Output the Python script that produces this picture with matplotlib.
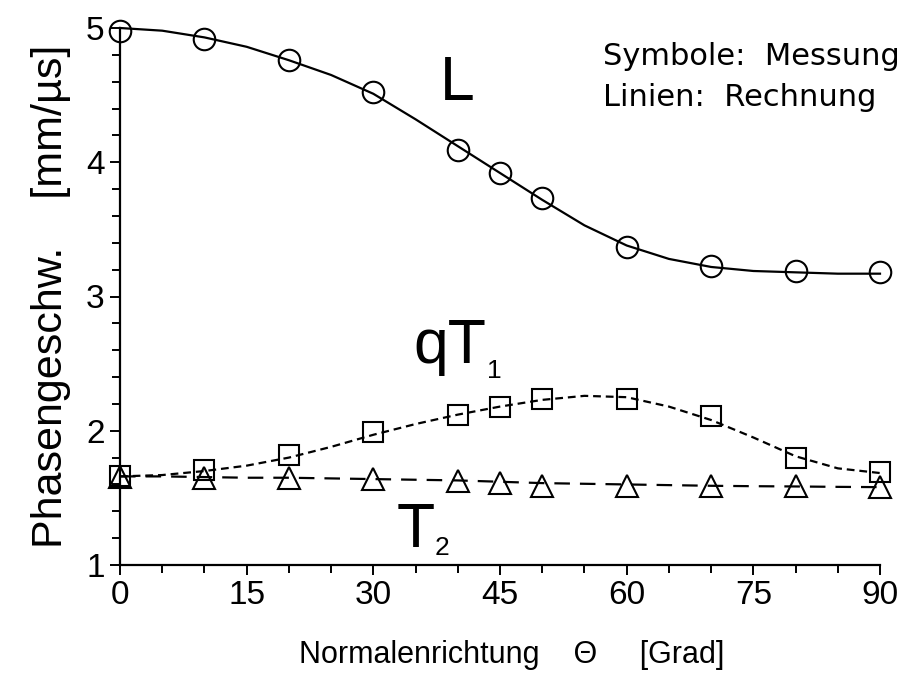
import numpy as np
import matplotlib
matplotlib.use("Agg")
import matplotlib.pyplot as plt
from matplotlib.ticker import MultipleLocator

plt.rcParams['font.family'] = ['Liberation Sans', 'DejaVu Sans']

# Messwerte (Symbole)
winkel_mess = [0, 10, 20, 30, 40, 45, 50, 60, 70, 80, 90]
L_mess = [4.98, 4.92, 4.76, 4.52, 4.09, 3.92, 3.73, 3.37, 3.23, 3.19, 3.18]
qT1_mess = [1.66, 1.71, 1.82, 1.99, 2.12, 2.18, 2.24, 2.24, 2.11, 1.80, 1.69]
T2_mess = [1.655, 1.65, 1.65, 1.64, 1.625, 1.61, 1.59, 1.59, 1.59, 1.585, 1.58]

winkel_rech = [0, 5, 10, 15, 20, 25, 30, 35, 40, 45, 50, 55, 60, 65, 70, 75, 80, 85, 90]
L_rech = [5.00, 4.98, 4.93, 4.86, 4.76, 4.65, 4.51, 4.32, 4.12, 3.92, 3.72,
          3.53, 3.38, 3.28, 3.22, 3.19, 3.18, 3.17, 3.17]
qT1_rech = [1.66, 1.67, 1.70, 1.74, 1.80, 1.88, 1.97, 2.05, 2.12, 2.18, 2.23,
            2.26, 2.25, 2.18, 2.08, 1.95, 1.81, 1.72, 1.685]
T2_rech = [1.66, 1.66, 1.655, 1.65, 1.65, 1.645, 1.64, 1.635, 1.63, 1.62, 1.61,
           1.605, 1.60, 1.595, 1.59, 1.587, 1.585, 1.582, 1.58]

fig = plt.figure(figsize=(9.07, 6.77), dpi=100)
ax = fig.add_axes([120 / 907, 1 - 565 / 677, 760 / 907, 537 / 677])

# Linien
ax.plot(winkel_rech, L_rech, color='black', lw=1.6, clip_on=False)
ax.plot(winkel_rech, qT1_rech, color='black', lw=1.6, dashes=(3.5, 2.2), clip_on=False)
ax.plot(winkel_rech, T2_rech, color='black', lw=1.6, dashes=(7, 4.5), clip_on=False)

# Symbole
mk = dict(color='black', linestyle='none', markerfacecolor='none',
          markeredgewidth=1.5, clip_on=False, zorder=3)
ax.plot(winkel_mess, L_mess, marker='o', markersize=15.5, **mk)
ax.plot(winkel_mess, qT1_mess, marker='s', markersize=14.5, **mk)
ax.plot(winkel_mess, T2_mess, marker='^', markersize=15.5, **mk)

ax.set_xlim(0, 90)
ax.set_ylim(1, 5)
ax.xaxis.set_major_locator(MultipleLocator(15))
ax.xaxis.set_minor_locator(MultipleLocator(5))
ax.yaxis.set_major_locator(MultipleLocator(1))
ax.yaxis.set_minor_locator(MultipleLocator(0.2))
ax.spines['top'].set_visible(False)
ax.spines['right'].set_visible(False)
for s in ['left', 'bottom']:
    ax.spines[s].set_linewidth(1.6)
ax.tick_params(which='both', direction='out', width=1.4, labelsize=24, pad=4)
ax.tick_params(which='major', length=7)
ax.tick_params(which='minor', length=6)

ax.set_ylabel('Phasengeschw.    [mm/µs]', fontsize=31, labelpad=11)
fig.text(0.5 * (293 + 730) / 907, 1 - 663 / 677,
         'Normalenrichtung    Θ     [Grad]', fontsize=22, ha='center', va='baseline')

# Kurvenbeschriftungen
ax.text(37.9, 1 + (565 - 100) / 134.25, 'L', fontsize=45, ha='left', va='baseline')
ax.text(34.7, 1 + (565 - 363) / 134.25, 'qT', fontsize=45, ha='left', va='baseline')
ax.text(43.5, 1 + (565 - 378) / 134.25, '1', fontsize=19, ha='left', va='baseline')
ax.text(32.8, 1 + (565 - 547) / 134.25, 'T', fontsize=45, ha='left', va='baseline')
ax.text(37.3, 1 + (565 - 555) / 134.25, '2', fontsize=19, ha='left', va='baseline')

fig.text(603 / 907, 1 - 65 / 677, 'Symbole:  Messung', fontsize=22,
         family='DejaVu Sans', ha='left', va='baseline')
fig.text(603 / 907, 1 - 106 / 677, 'Linien:  Rechnung', fontsize=22,
         family='DejaVu Sans', ha='left', va='baseline')

fig.savefig('out.png', dpi=100)
